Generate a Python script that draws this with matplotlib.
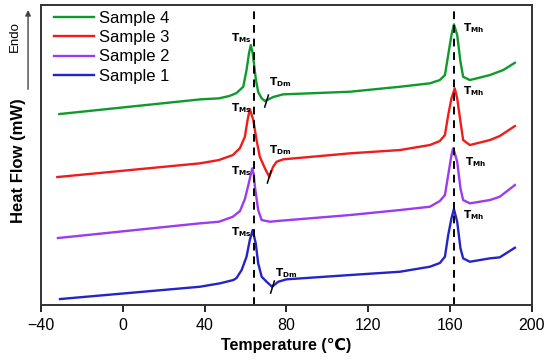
import numpy as np
import matplotlib
matplotlib.use('Agg')
import matplotlib.pyplot as plt

plt.rcParams['font.family'] = ['Liberation Sans', 'DejaVu Sans']

# readings (heat flow in arbitrary offset units)
t4 = [-31, 38, 47, 52, 55.6, 58.9, 60.5, 61.7, 62.6, 63.5, 65.1, 66.2, 67.9, 69.5, 73.5, 78.4, 111,
      135.5, 150.1, 155, 157.5, 159.1, 160.7, 161.9, 163.5, 165.1, 166.4, 169.7, 179.5, 186, 191.7]
hf4 = [191, 205.7, 206.7, 209, 212, 218.3, 235, 251.7, 260, 252, 225, 213, 206.7, 204, 208, 210.7, 213.3,
       218.3, 221.7, 225, 230, 250, 270, 280.7, 270, 243.3, 228.3, 225, 230, 235, 242.3]

t3 = [-32, 37.7, 47, 53.8, 57.3, 59.7, 61, 62.1, 63.8, 65.4, 67, 69.5, 71.6, 73.5, 75.2, 78.4, 111,
      135.5, 150.1, 155, 157.5, 159.1, 160.7, 162.3, 163.5, 165.1, 166.4, 169.7, 179.5, 184.3, 191.7]
hf3 = [128, 141.7, 145, 150, 157, 168.3, 185, 196, 185, 165, 148.3, 136.7, 128.3, 138.3, 143.3, 145.7, 151.7,
       155, 160, 164, 170, 190, 206.7, 216.7, 206.7, 183.3, 165, 160, 165, 169, 179]

t2 = [-31.7, 37.7, 47, 53.8, 57.3, 59.7, 61.4, 62.5, 63.3, 64.0, 64.6, 66.2, 67.9, 72, 75.2, 111,
      135.5, 150.1, 155, 157.5, 159.1, 160.7, 161.5, 162.3, 163.5, 165.1, 166.4, 169.7, 179.5, 184.3, 191.7]
hf2 = [67, 81.7, 83.3, 88.3, 94, 106, 120, 130, 136.7, 131, 118.3, 95, 85, 83.3, 84, 90,
       95, 98.3, 104, 110, 130, 150, 156.7, 152, 143.3, 116.7, 105, 101.7, 105, 108.3, 120]

t1 = [-30.7, 37.7, 47.5, 54, 55.6, 58.1, 60.5, 62.1, 63.5, 65, 66.2, 67.9, 70.3, 73, 76, 80, 111,
      135.5, 150.1, 155, 157.5, 159.1, 160.7, 161.9, 163.5, 165.1, 166.4, 169.7, 179.5, 184.3, 191.7]
hf1 = [6, 18.3, 21.7, 25, 27, 35, 48.3, 65, 75, 61.7, 41.7, 28.3, 23.3, 18.3, 23.3, 25.7, 30,
       33.3, 38.3, 42, 48.3, 70, 86.7, 96, 83.3, 56.7, 46.7, 43.3, 46.7, 47.7, 57.3]

labels = ['Sample 4', 'Sample 3', 'Sample 2', 'Sample 1']
colors = ['#0e9a2c', '#f01c1c', '#9a3cf0', '#2424c8']

# characteristic temperatures
t_ms = 64
t_mh = 162
# T_Dm marks (temperature, heat flow) for samples 4, 3, 1
dm_t = [70.3, 71.6, 73.2]
dm_hf = [204, 128, 18]

fig = plt.figure(figsize=(5.5, 3.61), dpi=100)
ax = fig.add_axes([0.0745, 0.155, 0.8925, 0.831])

for t, hf, lab, c in zip([t4, t3, t2, t1], [hf4, hf3, hf2, hf1], labels, colors):
    ax.plot(t, hf, color=c, lw=1.7, label=lab, solid_joinstyle='round')

ax.axvline(t_ms, color='black', ls=(0, (4, 3)), lw=1.4)
ax.axvline(t_mh, color='black', ls=(0, (4, 3)), lw=1.4)

# T_Dm tick marks
for t, hf in zip(dm_t, dm_hf):
    ax.plot([t - 0.9, t + 0.9], [hf - 6, hf + 6], color='black', lw=1.1)

ms_pos = [(53, 267), (53, 197), (53, 134), (53, 73)]
for x, y in ms_pos:
    ax.text(x, y, r'$\mathbf{T}_{\mathbf{Ms}}$', ha='left', va='center', fontsize=7.5)
dm_pos = [(71.5, 223), (71.5, 155), (74.4, 32)]
for x, y in dm_pos:
    ax.text(x, y, r'$\mathbf{T}_{\mathbf{Dm}}$', ha='left', va='center', fontsize=7.5)
mh_pos = [(166.5, 277), (166.5, 214), (167.3, 143), (166.5, 90)]
for x, y in mh_pos:
    ax.text(x, y, r'$\mathbf{T}_{\mathbf{Mh}}$', ha='left', va='center', fontsize=7.5)

ax.set_xlim(-40, 200)
ax.set_ylim(0, 300)
ax.set_xticks([-40, 0, 40, 80, 120, 160, 200])
ax.set_yticks([])
ax.tick_params(axis='x', direction='out', length=5, width=1.2, labelsize=11.5, pad=4)
for s in ax.spines.values():
    s.set_linewidth(1.4)
    s.set_color('#333333')

ax.set_xlabel('Temperature (℃)', fontsize=11.5, fontweight='bold', labelpad=4)
ax.set_ylabel('Heat Flow (mW)', fontsize=12, fontweight='bold')
ax.yaxis.set_label_coords(-0.03, 0.48)

leg = ax.legend(loc='upper left', fontsize=12, frameon=False, handlelength=2.35,
                handletextpad=0.3, labelspacing=0.25, borderaxespad=0.2,
                bbox_to_anchor=(0.007, 1.013))

# Endo arrow outside the axes
fig.text(0.027, 0.90, 'Endo', rotation=90, fontsize=9.5, ha='center', va='center')
ax.annotate('', xy=(0.051, 0.98), xytext=(0.051, 0.745), xycoords='figure fraction',
            arrowprops=dict(arrowstyle='-|>', color='#444444', lw=1.0, mutation_scale=8))

fig.savefig('out.png', dpi=100)
